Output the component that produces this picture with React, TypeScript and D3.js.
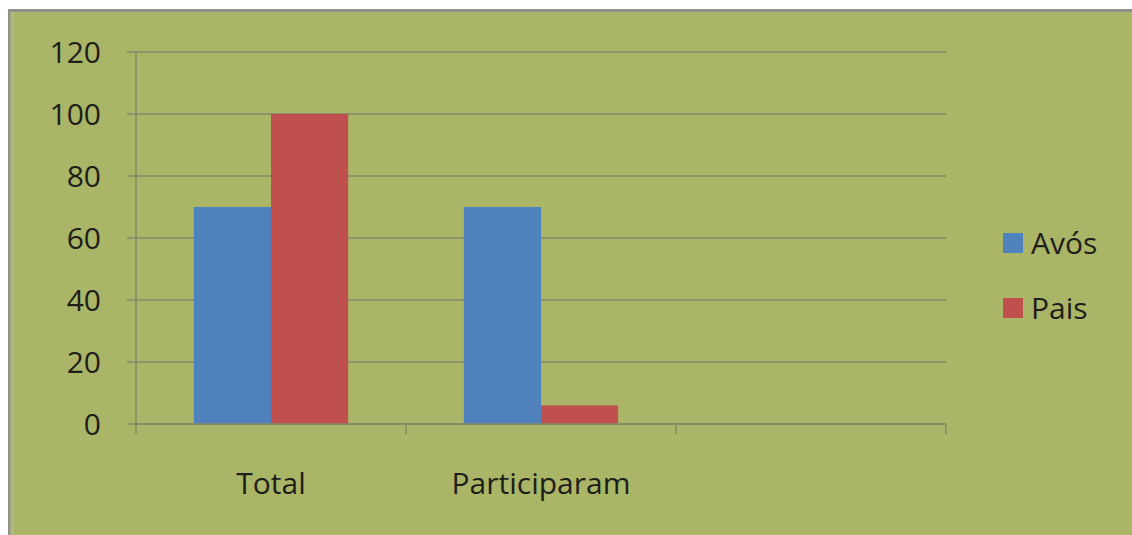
import React from "react";
import * as d3 from "d3";

const categories = ["Total", "Participaram", ""];
const seriesNames = ["Avós", "Pais"];
const avos = [70, 70, null];
const pais = [100, 6, null];
const yTicks = [0, 20, 40, 60, 80, 100, 120];

const W = 1132;
const H = 535;
const BG = "#AAB567";
const COLORS = ["#4F81BD", "#C0504D"];
const FONT = "'Open Sans', 'Liberation Sans', sans-serif";

export default function App() {
  const plot = { left: 136, right: 946, top: 52, bottom: 424 };

  const x = d3
    .scaleBand<string>()
    .domain(categories.map((c, i) => `${i}`))
    .range([plot.left, plot.right])
    .paddingInner(0)
    .paddingOuter(0);

  const inner = d3
    .scaleBand<string>()
    .domain(seriesNames)
    .range([0, x.bandwidth()])
    .paddingInner(0)
    .paddingOuter(0.75);

  const y = d3.scaleLinear().domain([0, 120]).range([plot.bottom, plot.top]);

  const series = [avos, pais];
  const boundaries = d3.range(categories.length + 1).map(
    (i) => plot.left + i * x.bandwidth()
  );

  return (
    <svg
      width={W}
      height={H}
      style={{ position: "absolute", left: 0, top: 0, display: "block" }}
    >
      <rect x={0} y={0} width={W} height={H} fill="#ffffff" />
      <rect x={8} y={9} width={W - 8} height={H - 9} fill={BG} />
      {/* frame edges */}
      <rect x={8} y={9} width={W - 8} height={3} fill="#8f938a" />
      <rect x={8} y={9} width={2.5} height={H - 9} fill="#8f938a" />
      <rect x={10.5} y={12} width={4} height={H - 12} fill="#b4bb86" opacity={0.6} />

      {/* gridlines and y ticks */}
      {yTicks.map((t) => (
        <g key={t}>
          <line
            x1={plot.left - 9}
            x2={plot.right}
            y1={y(t)}
            y2={y(t)}
            stroke="#868a68"
            strokeWidth={1.6}
          />
          <text
            x={101}
            y={y(t)}
            dy="0.36em"
            textAnchor="end"
            fontFamily={FONT}
            fontSize={30}
            fill="#1e1e1a"
          >
            {t}
          </text>
        </g>
      ))}

      {/* y axis */}
      <line
        x1={plot.left}
        x2={plot.left}
        y1={plot.top}
        y2={plot.bottom}
        stroke="#868a68"
        strokeWidth={1.6}
      />

      {/* bars */}
      {categories.map((c, i) =>
        series.map((s, k) => {
          const v = s[i];
          if (v == null) return null;
          const bx = (x(`${i}`) as number) + (inner(seriesNames[k]) as number);
          return (
            <rect
              key={`${i}-${k}`}
              x={bx}
              y={y(v)}
              width={inner.bandwidth()}
              height={y(0) - y(v)}
              fill={COLORS[k]}
            />
          );
        })
      )}

      {/* x axis */}
      <line
        x1={plot.left}
        x2={plot.right}
        y1={y(0)}
        y2={y(0)}
        stroke="#868a68"
        strokeWidth={1.6}
      />
      {boundaries.map((bx, i) => (
        <line
          key={i}
          x1={bx}
          x2={bx}
          y1={y(0)}
          y2={y(0) + 10}
          stroke="#868a68"
          strokeWidth={1.6}
        />
      ))}
      {categories.map((c, i) => (
        <text
          key={i}
          x={(x(`${i}`) as number) + x.bandwidth() / 2}
          y={494}
          textAnchor="middle"
          fontFamily={FONT}
          fontSize={30}
          fill="#1e1e1a"
        >
          {c}
        </text>
      ))}

      {/* legend */}
      {seriesNames.map((n, k) => (
        <g key={n} transform={`translate(1003, ${233 + k * 65})`}>
          <rect x={0} y={0} width={20} height={20} fill={COLORS[k]} />
          <text
            x={28}
            y={21}
            fontFamily={FONT}
            fontSize={30}
            fill="#1e1e1a"
          >
            {n}
          </text>
        </g>
      ))}
    </svg>
  );
}
